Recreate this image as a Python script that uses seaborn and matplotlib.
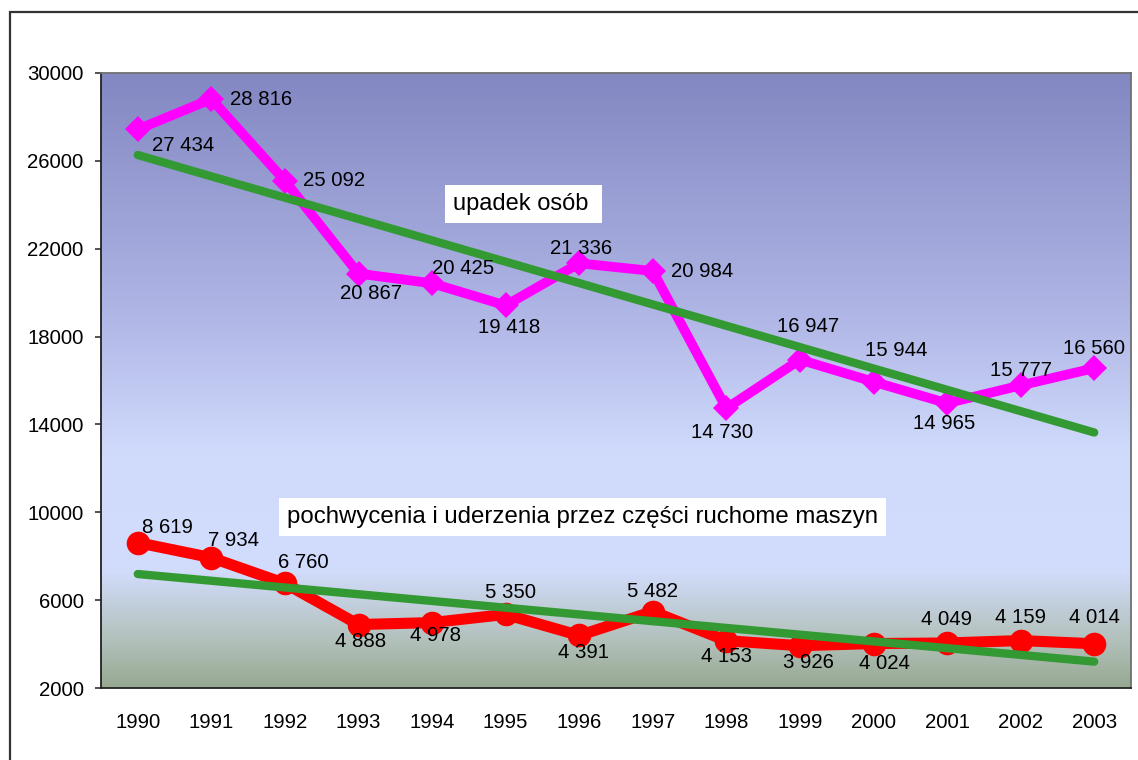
import numpy as np
import pandas as pd
import matplotlib
matplotlib.use("Agg")
import matplotlib.pyplot as plt
import seaborn as sns
from matplotlib.colors import LinearSegmentedColormap
from matplotlib.patches import Rectangle

years = ["1990", "1991", "1992", "1993", "1994", "1995", "1996",
         "1997", "1998", "1999", "2000", "2001", "2002", "2003"]
upadek = [27434, 28816, 25092, 20867, 20425, 19418, 21336,
          20984, 14730, 16947, 15944, 14965, 15777, 16560]
maszyny = [8619, 7934, 6760, 4888, 4978, 5350, 4391,
           5482, 4153, 3926, 4024, 4049, 4159, 4014]
y_ticks = [2000, 6000, 10000, 14000, 18000, 22000, 26000, 30000]

def fmt(v):
    return f"{v:,}".replace(",", " ")

sns.set_theme(style="white")
plt.rcParams['font.family'] = ['Liberation Sans', 'DejaVu Sans']
plt.rcParams['text.color'] = 'black'
plt.rcParams['xtick.color'] = 'black'
plt.rcParams['ytick.color'] = 'black'

fig = plt.figure(figsize=(11.38, 7.6), dpi=100)
ax = fig.add_axes([101/1138, 1-688/760, 1030/1138, 615/760])

# gradient background
cmap = LinearSegmentedColormap.from_list("bg", [
    (0.0, "#97a992"), (0.08, "#b3c2bd"), (0.19, "#d2dcfc"),
    (0.38, "#d0dbfc"), (0.62, "#aeb4e4"), (1.0, "#8387c2")])
grad = np.linspace(0, 1, 256).reshape(-1, 1)
ax.imshow(grad, cmap=cmap, origin="lower", aspect="auto",
          extent=[-0.5, 13.5, 2000, 30000], zorder=0)

x = np.arange(len(years))
df = pd.DataFrame({"x": x, "upadek": upadek, "maszyny": maszyny})

sns.lineplot(data=df, x="x", y="upadek", ax=ax, color="#ff00ff", lw=7,
             marker="D", markersize=13, markeredgewidth=0, zorder=3)
sns.lineplot(data=df, x="x", y="maszyny", ax=ax, color="#ff0000", lw=8,
             marker="o", markersize=17, markeredgewidth=0, zorder=3)
for col in ["upadek", "maszyny"]:
    sns.regplot(data=df, x="x", y=col, ax=ax, scatter=False, ci=None,
                truncate=True, line_kws=dict(color="#339933", lw=6, zorder=4,
                                             solid_capstyle="round"))

# label offsets in pixels (dx, dy up-positive), alignment
up_off = [(14, -16, "left"), (19, 0, "left"), (18, 0, "left"), (13, -20, "center"),
          (0, 15, "left"), (3, -22, "center"), (2, 15, "center"), (18, 0, "left"),
          (-4, -24, "center"), (8, 33, "center"), (23, 31, "center"),
          (-3, -20, "center"), (0, 15, "center"), (0, 20, "center")]
ma_off = [(4, 15, "left"), (-3, 17, "left"), (-7, 21, "left"), (2, -17, "center"),
          (3, -13, "center"), (5, 22, "center"), (4, -17, "center"), (0, 20, "center"),
          (0, -16, "center"), (9, -17, "center"), (11, -20, "center"),
          (-1, 23, "center"), (0, 23, "center"), (0, 26, "center")]
for vals, offs in [(upadek, up_off), (maszyny, ma_off)]:
    for xi, v, (dx, dy, ha) in zip(x, vals, offs):
        ax.annotate(fmt(v), (xi, v), xytext=(dx * 0.72, dy * 0.72),
                    textcoords="offset points", ha=ha, va="center",
                    fontsize=14.7, color="black", zorder=6)

ax.text(4.28, 24035, "upadek osób ", fontsize=17, ha="left", va="center",
        zorder=6, bbox=dict(facecolor="white", edgecolor="none", pad=5.5))
ax.text(2.03, 9785, "pochwycenia i uderzenia przez części ruchome maszyn",
        fontsize=17.3, ha="left", va="center", zorder=6,
        bbox=dict(facecolor="white", edgecolor="none", pad=5.5))

ax.set_xlim(-0.5, 13.5)
ax.set_ylim(2000, 30000)
ax.set_xticks(x)
ax.set_xticklabels(years)
ax.set_yticks(y_ticks)
ax.set_yticklabels([str(t) for t in y_ticks])
ax.set_xlabel("")
ax.set_ylabel("")
ax.tick_params(axis="x", length=0, pad=18, labelsize=14.7)
ax.tick_params(axis="y", length=4.5, width=1.2, pad=8, labelsize=14.7,
               left=True, color="#333333")
for s in ["left", "bottom"]:
    ax.spines[s].set_color("#222222")
    ax.spines[s].set_linewidth(1.3)
for s in ["top", "right"]:
    ax.spines[s].set_color("#707070")
    ax.spines[s].set_linewidth(1.3)
ax.grid(False)

fig.patches.append(Rectangle((10/1138, -0.1), 1.2, 1 - 12/760 + 0.1,
                             transform=fig.transFigure, fill=False,
                             edgecolor="#333333", lw=1.6, zorder=10))

fig.savefig("out.png", dpi=100, facecolor="white")
